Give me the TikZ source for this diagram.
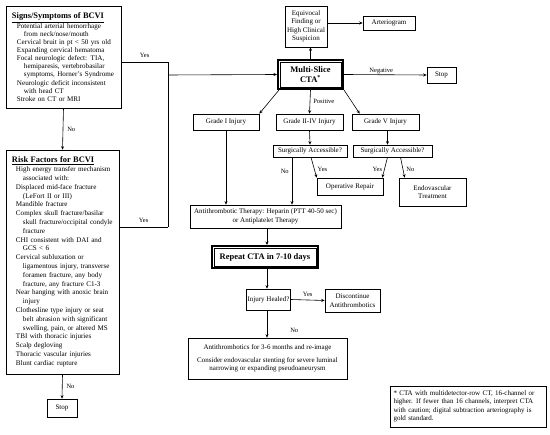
\documentclass[tikz,border=0pt]{standalone}
\usepackage{fontspec}
\setmainfont{Liberation Serif}
\usetikzlibrary{arrows.meta, positioning, calc}

\newcommand{\indt}{\hspace*{7pt}}
\newcommand{\hdr}[1]{\underline{\fontsize{8.4}{10}\selectfont\bfseries #1}}

\begin{document}
\begin{tikzpicture}[
    x=1pt, y=-1pt,
    nd/.style={draw, line width=0.6pt, inner sep=1pt, align=center, font=\fontsize{7}{8.5}\selectfont},
    listbox/.style={draw, line width=0.6pt, align=left, inner xsep=6pt, inner ysep=2pt},
    keybox/.style={nd, line width=2pt, font=\fontsize{8.5}{9.5}\selectfont\bfseries},
    arr/.style={-{Stealth[length=3.5pt,width=3pt]}, line width=0.6pt},
    ln/.style={line width=0.6pt},
    elabel/.style={font=\fontsize{6.5}{7}\selectfont, inner sep=1pt},
]
\useasboundingbox (0,0) rectangle (550,435);

% left column: screening criteria
\node[listbox, text width=103pt, minimum width=115pt, minimum height=102pt,
      font=\fontsize{7.1}{8.1}\selectfont] (signs) at (63.5,57) {%
\hdr{Signs/Symptoms of BCVI}\\
\hspace*{5pt}Potential arterial hemorrhage\\
\hspace*{5pt}\indt from neck/nose/mouth\\
\hspace*{5pt}Cervical bruit in pt < 50 yrs old\\
\hspace*{5pt}Expanding cervical hematoma\\
\hspace*{5pt}Focal neurologic defect: TIA,\\
\hspace*{5pt}\indt hemiparesis, vertebrobasilar\\
\hspace*{5pt}\indt symptoms, Horner's Syndrome\\
\hspace*{5pt}Neurologic deficit inconsistent\\
\hspace*{5pt}\indt with head CT\\
\hspace*{5pt}Stroke on CT or MRI};

\node[listbox, text width=101pt, minimum width=113pt, minimum height=224pt,
      font=\fontsize{7.1}{8.8}\selectfont] (risk) at (62.5,262) {%
\hdr{Risk Factors for BCVI}\\
\hspace*{4pt}High energy transfer mechanism\\
\hspace*{4pt}\indt associated with:\\
\hspace*{4pt}Displaced mid-face fracture\\
\hspace*{4pt}\indt (LeFort II or III)\\
\hspace*{4pt}Mandible fracture\\
\hspace*{4pt}Complex skull fracture/basilar\\
\hspace*{4pt}\indt skull fracture/occipital condyle\\
\hspace*{4pt}\indt fracture\\
\hspace*{4pt}CHI consistent with DAI and\\
\hspace*{4pt}\indt GCS < 6\\
\hspace*{4pt}Cervical subluxation or\\
\hspace*{4pt}\indt ligamentous injury, transverse\\
\hspace*{4pt}\indt foramen fracture, any body\\
\hspace*{4pt}\indt fracture, any fracture C1-3\\
\hspace*{4pt}Near hanging with anoxic brain\\
\hspace*{4pt}\indt injury\\
\hspace*{4pt}Clothesline type injury or seat\\
\hspace*{4pt}\indt belt abrasion with significant\\
\hspace*{4pt}\indt swelling, pain, or altered MS\\
\hspace*{4pt}TBI with thoracic injuries\\
\hspace*{4pt}Scalp degloving\\
\hspace*{4pt}Thoracic vascular injuries\\
\hspace*{4pt}Blunt cardiac rupture};

\node[nd, minimum width=30pt, minimum height=18pt] (stopA) at (62,408) {Stop};

% CTA and its outcomes
\node[keybox, minimum width=65pt, minimum height=29pt] (cta) at (310.5,74.5) {Multi-Slice\\CTA\textsuperscript{*}};
\node[nd, minimum width=42pt, minimum height=41pt] (equiv) at (306,26.5) {Equivocal\\Finding or\\High Clinical\\Suspicion};
\node[nd, minimum width=52pt, minimum height=14pt] (arterio) at (389,23) {Arteriogram};
\node[nd, minimum width=29pt, minimum height=16pt] (stopB) at (441.5,75) {Stop};

\node[nd, minimum width=66pt, minimum height=16pt] (g1) at (226,122) {Grade I Injury};
\node[nd, minimum width=67pt, minimum height=16pt] (g2) at (309.5,122) {Grade II-IV Injury};
\node[nd, minimum width=67pt, minimum height=16pt] (g5) at (385.5,122) {Grade V Injury};

\node[nd, minimum width=74pt, minimum height=12pt] (sa1) at (310,151) {Surgically Accessible?};
\node[nd, minimum width=79pt, minimum height=12pt] (sa2) at (392.5,151) {Surgically Accessible?};
\node[nd, minimum width=66pt, minimum height=17pt] (oprep) at (350,186.5) {Operative Repair};
\node[nd, minimum width=67pt, minimum height=28pt] (endo) at (432.5,192) {Endovascular\\Treatment};

% treatment and follow-up
\node[nd, minimum width=151pt, minimum height=23pt] (anti) at (265.5,216.5) {Antithrombotic Therapy: Heparin (PTT 40-50 sec)\\or Antiplatelet Therapy};
\node[keybox, minimum width=106pt, minimum height=22pt] (repeat) at (265,257) {Repeat CTA in 7-10 days};
\node[nd, minimum width=43pt, minimum height=21pt] (healed) at (268.5,299.5) {Injury Healed?};
\node[nd, minimum width=55pt, minimum height=23pt] (discont) at (352.5,300.5) {Discontinue\\Antithrombotics};
\node[nd, minimum width=159pt, minimum height=41pt] (longterm) at (267.5,358.5) {Antithrombotics for 3-6 months and re-image\\[4pt]Consider endovascular stenting for severe luminal\\narrowing or expanding pseudoaneurysm};

\node[nd, align=left, text width=150pt, minimum height=41pt, inner xsep=3pt,
      font=\fontsize{7}{8.5}\selectfont] (note) at (468.5,406.5) {%
* CTA with multidetector-row CT, 16-channel or\\
higher. If fewer than 16 channels, interpret CTA\\
with caution; digital subtraction arteriography is\\
gold standard.};

% inner lines of the key boxes
\draw[line width=0.5pt] ([shift={(2.8pt,-2.8pt)}]cta.north west) rectangle ([shift={(-2.8pt,2.8pt)}]cta.south east);
\draw[line width=0.5pt] ([shift={(2.8pt,-2.8pt)}]repeat.north west) rectangle ([shift={(-2.8pt,2.8pt)}]repeat.south east);

% junction of the two Yes branches
\coordinate (jt) at (168,62);
\coordinate (jm) at (168,75);
\coordinate (jb) at (168,227);

% connectors
\draw[arr] (signs.south) -- node[elabel, right=3pt] {No} (risk.north);
\draw[arr] (risk.south) -- node[elabel, right=3pt] {No} (stopA.north);
\draw[ln] (signs.east |- jt) -- node[elabel, above=3pt] {Yes} (jt) -- (jb);
\draw[ln] (risk.east |- jb) -- node[elabel, above=3pt] {Yes} (jb);
\draw[arr] (jm) -- (cta.west);

\draw[arr] (cta.north) -- (cta.north |- equiv.south);
\draw[arr] (equiv.east |- arterio.west) -- (arterio.west);
\draw[arr] (cta.east) -- node[elabel, above, pos=0.45] {Negative} (stopB.west);

\draw[arr] ([xshift=2pt]cta.south west) -- (g1.north east);
\draw[arr] (cta.south) -- node[elabel, right=2pt] {Positive} (g2.north);
\draw[arr] (cta.south east) -- ([xshift=8pt]g5.north west);

\draw[arr] (g2.south) -- (sa1.north);
\draw[arr] ([xshift=2pt]g5.south) -- ([xshift=2pt]g5.south |- sa2.north);
\draw[arr] (g1.south) -- (g1.south |- anti.north);
\draw[arr] ([xshift=-18pt]sa1.south) -- node[elabel, left=2pt, pos=0.3] {No} ([xshift=-18pt]sa1.south |- anti.north);
\draw[arr] ([xshift=1pt]sa1.south) -- node[elabel, right=2pt, pos=0.6] {Yes} (oprep.north west);
\draw[arr] ([xshift=-5pt]sa2.south) -- node[elabel, left=1pt, pos=0.6] {Yes} ([xshift=-1pt]oprep.north east);
\draw[arr] ([xshift=8pt]sa2.south) -- node[elabel, right=2pt, pos=0.6] {No} ([xshift=6pt]endo.north west);

\draw[arr] ([xshift=1.5pt]anti.south) -- ([xshift=1.5pt]anti.south |- repeat.north);
\draw[arr] ([xshift=2pt]repeat.south) -- ([xshift=2pt]repeat.south |- healed.north);
\draw[arr] (healed.east) -- node[elabel, above=2pt] {Yes} (discont.west);
\draw[arr] ([xshift=-1.5pt]healed.south) -- node[elabel, right=22pt, pos=0.75] {No} ([xshift=-1.5pt]healed.south |- longterm.north);

\end{tikzpicture}
\end{document}
